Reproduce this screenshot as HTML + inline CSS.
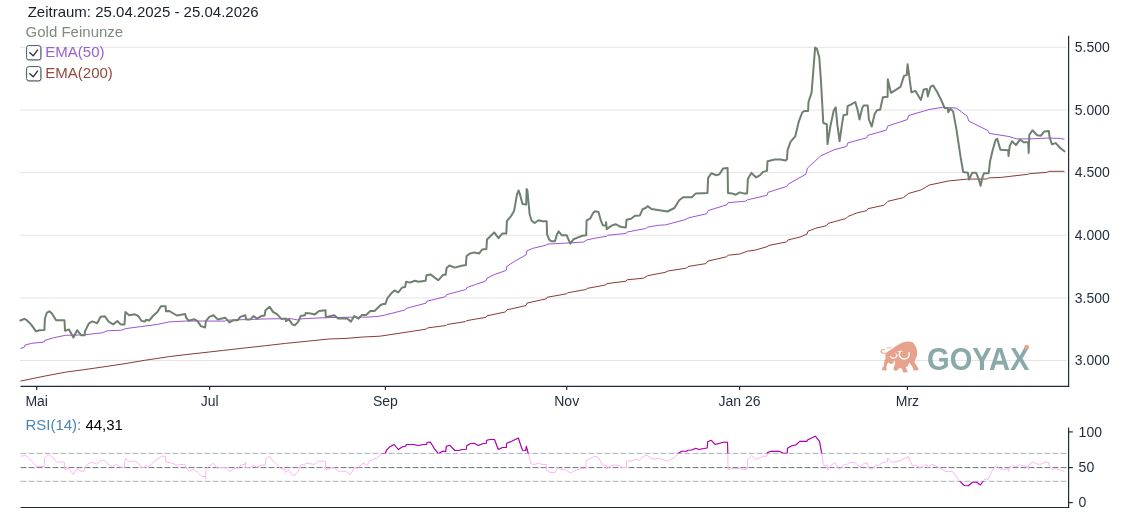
<!DOCTYPE html>
<html lang="de"><head><meta charset="utf-8"><title>Gold Feinunze Chart</title>
<style>
html,body{margin:0;padding:0;background:#fff;}
body{width:1140px;height:513px;overflow:hidden;position:relative;font-family:"Liberation Sans",sans-serif;}
svg{position:absolute;left:0;top:0;display:block}
text{font-family:"Liberation Sans",sans-serif;}
.ax{font-size:14px;fill:#1f2b3a}
.t15{font-size:15px}
</style></head><body>
<svg width="1140" height="513" viewBox="0 0 1140 513">
<defs>
<clipPath id="hi"><rect x="0" y="420" width="1140" height="33.4"/></clipPath>
<clipPath id="lo"><rect x="0" y="481.3" width="1140" height="30"/></clipPath>
</defs>

<line x1="20.0" y1="47.3" x2="1067.1" y2="47.3" stroke="#e4e4e4" stroke-width="1"/>
<line x1="20.0" y1="110.0" x2="1067.1" y2="110.0" stroke="#e4e4e4" stroke-width="1"/>
<line x1="20.0" y1="172.6" x2="1067.1" y2="172.6" stroke="#e4e4e4" stroke-width="1"/>
<line x1="20.0" y1="235.2" x2="1067.1" y2="235.2" stroke="#e4e4e4" stroke-width="1"/>
<line x1="20.0" y1="297.9" x2="1067.1" y2="297.9" stroke="#e4e4e4" stroke-width="1"/>
<line x1="20.0" y1="360.5" x2="1067.1" y2="360.5" stroke="#e4e4e4" stroke-width="1"/>
<g id="logo" opacity="1">
<text x="927" y="370" font-size="32" font-weight="bold" fill="#8aa9a9" textLength="102.5" lengthAdjust="spacingAndGlyphs">GOYAX</text>
<circle cx="1026.6" cy="347.2" r="2.4" fill="#e9a48d"/>
<g transform="translate(876,338) scale(0.07407)" fill="#e6a28a">
<path d="M130,212 L150,190 L200,160 L250,120 L300,90 L350,65 L400,50 L450,47 L500,60 L530,100 L550,150 L556,200 L550,250 L532,290 L520,320 L540,360 L570,410 L576,436 L508,440 L498,400 L470,360 L452,332 L442,352 L430,380 L400,392 L412,422 L430,462 L368,466 L350,420 L330,400 L300,420 L280,442 L250,442 L234,410 L250,370 L260,330 L250,308 L240,300 L236,340 L200,350 L170,332 L150,352 L140,400 L146,436 L84,440 L84,402 L104,380 L110,330 L116,300 L132,270 L124,240 Z"/>
<path d="M140,212 L92,214 L62,196 L58,174 L84,152 L118,148 L120,160 L92,166 L76,180 L82,194 L100,200 L140,198 Z"/>
<rect x="140" y="128" width="72" height="12" rx="5"/>
<path d="M322,186 C300,230 325,282 380,284 C430,282 462,245 444,196" fill="none" stroke="#fff" stroke-width="20" stroke-linecap="round"/>
<path d="M298,182 L352,178" fill="none" stroke="#fff" stroke-width="10" stroke-linecap="round"/>
<path d="M196,250 C215,285 262,282 286,236" fill="none" stroke="#fff" stroke-width="17" stroke-linecap="round"/>
<path d="M262,200 C280,215 285,245 270,262" fill="none" stroke="#fff" stroke-width="9" stroke-linecap="round"/>
</g>

</g>
<polyline fill="none" stroke="#8a3b36" stroke-width="1" stroke-linejoin="round" points="20.4,381.1 45.2,376.0 65.3,372.2 83.8,369.7 103.9,366.8 124.0,363.8 144.2,360.4 169.3,356.6 186.1,354.6 223.5,350.4 245.3,347.9 265.5,345.7 285.6,343.4 307.4,341.2 329.2,339.0 346.0,338.4 362.7,337.0 380.0,336.2 420.7,330.0 426.5,329.0 427.5,327.9 446.0,325.5 447.0,324.5 465.5,321.6 466.9,320.6 486.0,317.3 487.0,315.8 505.5,311.9 506.8,309.9 525.9,305.6 526.9,303.1 546.4,298.8 547.0,297.3 566.6,293.8 567.5,292.8 586.1,289.5 587.0,288.4 605.6,285.0 606.5,283.7 626.0,281.2 627.0,279.8 643.6,278.2 647.5,275.7 665.0,272.4 667.9,271.0 686.5,268.1 688.0,266.5 705.9,263.6 707.9,261.1 726.4,256.8 728.4,255.2 739.7,254.0 747.5,251.2 755.3,250.1 767.0,246.7 769.0,245.4 786.5,241.9 788.1,239.9 800.2,237.0 807.0,234.1 808.0,231.2 815.8,228.2 826.5,225.7 828.1,223.4 846.0,218.5 847.9,216.5 856.7,213.0 866.5,210.7 868.0,208.7 884.0,205.2 887.9,201.3 903.5,197.6 908.4,193.5 920.1,190.2 920.9,190.0 929.1,185.1 948.2,181.0 967.3,179.1 987.2,179.0 988.7,177.9 1001.2,177.4 1027.7,174.3 1029.3,173.7 1046.4,172.4 1049.6,171.3 1064.4,171.3"/>
<polyline fill="none" stroke="#9a55d3" stroke-width="1" stroke-linejoin="round" points="20.4,348.7 24.3,347.0 25.1,345.0 31.8,343.3 44.4,342.0 44.9,340.3 53.6,337.8 65.3,335.3 83.8,334.9 102.2,332.8 107.3,330.8 121.5,330.2 125.7,328.6 140.8,326.6 157.6,324.4 169.3,321.9 186.1,321.0 225.2,321.1 226.1,320.2 267.1,318.9 290.6,318.6 297.3,319.9 300.7,318.9 324.2,317.7 351.0,317.2 366.1,317.2 377.8,316.4 384.6,315.2 405.1,309.9 406.1,308.4 426.1,303.1 426.9,301.2 445.6,296.7 446.4,294.7 465.9,289.5 466.9,287.5 475.3,284.6 484.0,281.7 486.4,280.3 487.0,278.1 494.8,274.4 505.9,270.5 506.3,270.0 506.7,266.5 514.1,261.6 526.2,254.8 526.8,250.9 532.6,248.4 546.7,245.0 547.3,244.1 565.8,243.1 583.3,242.1 587.2,239.8 597.0,237.8 606.7,236.3 607.7,235.3 626.2,233.4 627.2,232.0 645.7,228.5 647.6,227.1 659.3,225.2 665.6,224.9 685.1,219.7 689.0,217.7 706.5,213.8 708.5,210.5 727.0,204.7 728.0,202.7 745.5,201.2 747.5,199.8 767.0,195.3 767.9,192.4 786.5,186.5 788.4,184.0 805.9,174.2 807.5,168.0 820.9,155.8 833.8,149.9 846.7,146.4 847.8,142.9 866.5,137.8 867.7,135.4 886.4,130.1 887.6,126.1 907.3,119.6 908.7,115.5 929.1,109.5 942.8,107.3 956.4,108.1 967.3,116.3 968.7,121.0 987.8,130.5 989.2,133.4 1009.0,136.5 1016.8,138.9 1029.3,138.9 1048.0,138.1 1060.5,138.4 1064.4,139.3"/>
<polyline fill="none" stroke="#6f8071" stroke-width="2" stroke-linejoin="round" stroke-linecap="round" points="20.4,320.5 24.3,318.8 26.8,320.2 31.0,324.4 36.0,331.4 39.3,330.2 44.4,329.9 44.9,318.5 46.9,312.6 49.4,311.3 51.9,313.5 56.1,320.2 64.5,320.2 65.0,330.8 69.0,329.4 73.4,337.5 77.1,330.2 81.3,335.3 84.6,335.3 85.1,331.1 88.8,323.5 92.2,321.4 97.2,323.2 100.6,316.8 104.8,316.3 108.9,321.9 113.1,324.4 117.3,321.0 120.7,324.4 124.5,324.4 125.4,312.1 129.1,315.2 134.9,314.3 138.3,316.0 141.6,321.0 145.0,321.4 146.2,319.7 149.2,320.5 153.4,315.5 157.6,311.8 160.9,306.3 165.6,306.3 166.0,311.3 169.3,311.0 176.9,315.5 181.1,314.8 185.2,314.0 186.1,317.7 188.6,320.7 194.5,319.3 197.5,321.1 200.9,326.1 205.1,327.5 205.9,321.1 209.3,316.9 213.5,315.2 217.7,319.4 225.2,317.7 229.4,322.4 233.6,320.2 237.8,320.2 240.3,316.9 245.3,315.2 246.2,319.4 250.4,319.4 253.4,316.1 257.1,318.6 261.3,316.1 264.6,315.6 265.5,310.2 269.7,306.8 273.0,311.9 277.2,314.4 281.4,318.9 285.6,318.6 285.9,321.1 288.9,319.4 292.3,324.4 294.8,325.3 298.2,321.9 300.7,316.1 304.9,315.2 305.7,313.0 310.7,313.5 314.9,314.4 319.1,311.0 325.5,310.2 325.8,317.2 334.2,315.2 338.4,318.6 346.8,318.2 351.0,321.6 354.3,316.1 358.5,318.6 361.9,314.9 366.1,314.9 370.3,311.0 374.5,311.0 380.7,305.0 382.7,304.1 385.2,304.1 387.5,298.2 390.5,294.3 394.4,290.4 398.3,292.4 402.2,287.5 405.1,287.1 406.1,281.7 410.0,282.6 414.8,280.7 418.7,281.7 425.6,280.7 426.5,275.2 430.4,274.4 438.2,280.3 443.1,274.8 445.6,274.8 446.6,268.0 449.5,265.5 454.8,267.6 461.6,265.7 465.9,265.1 466.5,256.3 469.4,253.8 474.3,252.4 479.2,253.4 482.1,249.5 486.4,248.9 487.0,239.4 489.9,236.8 494.2,232.4 498.5,238.2 502.4,233.4 506.3,233.4 506.9,221.1 511.2,215.8 514.1,210.9 517.0,194.4 518.6,190.5 520.0,194.4 522.5,204.1 526.2,204.5 526.6,188.9 527.4,190.5 529.7,214.8 531.7,220.7 534.6,223.0 538.5,220.3 542.4,221.3 546.7,221.3 547.1,234.3 549.2,239.6 551.2,241.2 555.0,241.2 557.0,234.3 558.6,231.4 561.9,235.3 566.7,235.3 570.3,243.7 573.6,239.2 577.5,237.6 582.3,235.7 586.2,235.3 586.6,220.3 590.1,218.7 593.1,212.9 595.0,211.3 598.5,211.9 600.9,220.7 602.8,225.2 605.7,225.9 606.1,222.2 606.7,229.1 611.6,225.6 615.5,224.2 621.3,227.1 625.8,227.5 626.6,219.7 631.1,218.7 635.0,215.8 639.8,215.4 642.8,209.0 645.7,208.0 647.6,206.1 651.5,209.0 667.5,211.5 674.4,208.0 679.2,200.2 683.1,197.3 691.9,197.3 695.8,193.4 707.5,193.0 708.1,177.8 711.4,173.3 716.3,175.2 719.2,174.4 723.1,168.6 727.6,168.0 728.0,193.0 731.9,193.4 735.8,194.7 739.7,192.4 743.6,193.4 747.1,193.4 747.9,178.7 751.4,172.9 756.2,177.4 760.1,175.2 763.1,171.9 767.0,170.9 767.5,161.2 774.8,159.6 780.6,159.6 785.5,160.6 787.0,159.3 787.5,150.4 790.5,141.8 795.2,136.4 798.7,121.9 802.2,112.5 804.6,110.9 808.1,110.9 808.5,102.0 811.6,92.6 813.9,63.4 815.1,47.5 817.0,48.9 819.3,57.5 820.9,79.8 823.3,123.0 826.8,124.2 827.5,144.1 830.3,126.5 833.8,110.2 835.7,107.4 837.3,124.2 839.6,141.3 842.0,124.2 843.6,114.9 847.1,114.4 847.6,106.2 851.3,104.3 855.3,102.0 857.7,110.2 859.5,119.5 862.3,107.8 863.7,105.5 867.7,105.5 868.9,119.5 871.7,126.5 874.7,113.7 877.1,110.2 880.1,109.7 882.9,97.3 887.6,96.8 887.8,79.3 890.9,92.8 895.0,90.4 900.5,86.8 904.0,75.9 906.7,75.1 907.6,64.2 911.4,92.3 915.5,90.9 920.9,99.9 923.7,89.6 926.9,89.0 927.8,96.4 930.5,86.8 933.2,85.5 937.3,92.3 941.4,100.5 944.7,108.1 947.7,108.1 948.2,112.2 950.4,108.7 953.1,111.4 956.4,129.1 960.5,156.4 963.2,172.0 967.9,172.8 969.0,179.6 972.2,172.8 976.1,172.8 978.6,178.6 980.6,185.7 982.5,177.1 984.0,173.2 988.7,173.2 990.0,161.5 992.6,150.6 995.7,139.6 997.3,138.9 1000.4,149.8 1008.2,150.2 1008.5,156.0 1009.8,145.9 1012.1,141.2 1016.0,145.1 1019.9,139.6 1023.8,142.3 1028.2,142.3 1028.7,152.9 1029.3,135.0 1032.4,130.3 1037.1,135.3 1041.0,135.7 1044.1,131.5 1048.8,131.1 1049.6,137.3 1051.9,144.3 1055.8,143.1 1060.5,148.2 1064.4,151.3"/>
<line x1="1068.6" y1="35.8" x2="1068.6" y2="386.8" stroke="#1f2b3a" stroke-width="1.2"/>
<line x1="20.5" y1="386.3" x2="1069.2" y2="386.3" stroke="#1f2b3a" stroke-width="1.2"/>
<line x1="36.7" y1="386.3" x2="36.7" y2="390" stroke="#1f2b3a" stroke-width="1.2"/>
<text class="ax" x="36.7" y="405.9" text-anchor="middle">Mai</text>
<line x1="209.6" y1="386.3" x2="209.6" y2="390" stroke="#1f2b3a" stroke-width="1.2"/>
<text class="ax" x="209.6" y="405.9" text-anchor="middle">Jul</text>
<line x1="385.4" y1="386.3" x2="385.4" y2="390" stroke="#1f2b3a" stroke-width="1.2"/>
<text class="ax" x="385.4" y="405.9" text-anchor="middle">Sep</text>
<line x1="566.7" y1="386.3" x2="566.7" y2="390" stroke="#1f2b3a" stroke-width="1.2"/>
<text class="ax" x="566.7" y="405.9" text-anchor="middle">Nov</text>
<line x1="739.6" y1="386.3" x2="739.6" y2="390" stroke="#1f2b3a" stroke-width="1.2"/>
<text class="ax" x="739.6" y="405.9" text-anchor="middle">Jan 26</text>
<line x1="907.4" y1="386.3" x2="907.4" y2="390" stroke="#1f2b3a" stroke-width="1.2"/>
<text class="ax" x="907.4" y="405.9" text-anchor="middle">Mrz</text>
<text class="ax" x="1074.8" y="52.0">5.500</text>
<text class="ax" x="1074.8" y="114.7">5.000</text>
<text class="ax" x="1074.8" y="177.3">4.500</text>
<text class="ax" x="1074.8" y="239.9">4.000</text>
<text class="ax" x="1074.8" y="302.6">3.500</text>
<text class="ax" x="1074.8" y="365.2">3.000</text>
<line x1="20.5" y1="453.4" x2="1067.6" y2="453.4" stroke="#aab5bd" stroke-width="1" stroke-dasharray="6 2"/>
<line x1="20.5" y1="467.6" x2="1067.6" y2="467.6" stroke="#6b7883" stroke-width="1" stroke-dasharray="6 2"/>
<line x1="20.5" y1="481.3" x2="1067.6" y2="481.3" stroke="#aab5bd" stroke-width="1" stroke-dasharray="6 2"/>
<polyline fill="none" stroke="#ffb5f3" stroke-width="1" stroke-linejoin="round" points="20.3,456.2 25.8,455.5 28.3,457.5 35.8,465.8 39.2,466.7 44.2,466.3 44.7,457.5 48.3,454.5 51.7,456.7 56.7,462.0 64.2,462.0 65.0,470.0 68.7,468.3 73.3,474.5 77.0,468.3 80.8,471.2 84.2,471.2 85.0,467.5 88.3,463.7 92.5,462.2 96.7,464.2 100.8,460.3 104.2,460.3 109.2,465.0 112.5,466.7 116.7,464.5 120.0,467.0 124.2,467.5 125.3,458.3 129.2,461.7 133.3,460.8 137.5,462.5 141.7,467.5 144.7,467.5 145.3,465.5 149.2,466.3 155.0,460.8 161.7,456.2 165.3,456.2 165.8,462.0 170.0,462.5 176.7,465.0 185.0,464.2 185.8,467.5 189.2,471.2 193.3,469.2 197.5,472.2 201.7,476.3 205.3,476.7 205.7,478.7 206.0,469.2 209.2,465.8 213.3,463.3 217.5,468.3 225.0,467.2 229.5,471.7 233.7,468.7 237.5,468.7 240.0,465.5 245.0,464.2 245.5,462.0 245.8,467.5 250.0,468.0 253.3,465.0 256.7,467.2 260.8,465.3 265.3,465.0 265.8,459.2 269.5,456.2 272.8,460.8 276.7,464.2 280.8,468.7 285.0,469.2 285.3,472.5 288.7,470.0 292.0,474.5 294.2,475.5 297.8,472.2 300.8,465.0 305.0,464.7 305.5,463.3 310.0,463.7 314.2,464.5 318.3,461.2 325.3,461.2 325.7,469.7 333.7,467.5 338.3,471.3 345.8,471.3 350.3,474.7 354.2,467.5 357.5,468.7 360.8,465.0 362.5,463.3 365.0,463.7 366.7,465.5 370.0,460.8 373.3,459.2 376.7,458.0 381.7,453.7 385.3,453.3 386.7,450.0 390.0,446.7 394.2,444.5 398.3,449.5 402.5,446.7 405.8,446.2 406.3,444.5 413.3,444.5 418.3,445.5 423.3,444.5 426.7,444.5 427.0,442.5 430.3,442.0 434.2,448.3 438.3,453.7 442.5,451.3 445.8,451.3 446.3,446.3 450.0,445.3 454.7,450.5 458.3,450.5 462.5,449.5 466.3,449.2 466.7,445.8 470.0,443.7 474.2,443.3 478.3,445.5 482.5,443.7 486.2,443.3 486.7,440.3 490.0,439.5 494.5,439.5 498.3,449.5 502.5,447.5 506.3,447.5 506.7,443.3 511.7,441.3 518.3,438.0 522.5,450.3 525.8,450.5 526.3,446.2 528.3,453.7 530.8,463.7 534.2,464.5 538.3,463.3 542.5,464.5 546.3,464.5 546.7,470.5 550.0,472.5 555.0,472.5 558.0,467.5 560.8,469.2 565.8,469.7 570.5,473.3 575.0,470.3 580.8,468.7 585.8,468.3 586.3,460.3 590.0,458.8 594.7,456.2 598.3,457.5 602.5,465.0 606.3,465.5 606.7,468.7 610.8,465.8 615.0,465.0 619.2,465.5 622.0,467.5 626.2,467.5 626.7,461.2 631.7,460.8 635.8,459.2 639.2,460.3 644.2,455.8 647.5,455.5 650.0,457.5 654.2,459.2 659.2,458.0 663.3,460.0 667.5,461.2 675.0,457.2 678.3,453.3 681.7,451.3 687.0,451.2 687.5,450.3 691.7,450.0 695.8,448.3 698.8,449.5 702.5,448.7 707.2,448.0 707.7,441.7 711.3,440.3 715.3,444.5 723.3,442.2 727.5,442.2 727.8,453.3 728.0,469.2 733.3,468.7 739.2,468.3 743.3,469.5 747.2,469.5 747.7,459.2 751.7,455.5 755.8,459.5 763.3,456.3 767.0,456.2 767.5,452.5 770.8,451.3 779.2,451.3 783.3,453.3 787.2,453.3 787.5,448.3 791.7,445.8 795.8,445.0 799.7,441.3 807.0,441.3 807.5,440.0 815.3,436.2 819.5,441.3 821.7,453.3 823.3,465.0 827.5,465.5 827.8,470.3 830.8,465.5 835.0,462.5 839.2,469.5 843.3,465.0 846.7,464.5 850.0,462.5 855.0,462.5 860.0,466.7 864.2,463.3 867.5,463.3 868.0,467.2 871.7,469.7 875.0,465.5 879.2,465.0 883.3,462.5 887.2,462.0 887.7,458.3 891.7,462.5 900.0,460.8 904.2,458.3 907.5,458.0 908.0,456.2 912.5,465.8 915.8,465.0 920.0,468.0 924.2,465.0 927.0,465.0 927.5,468.0 931.7,464.2 935.8,465.8 940.8,468.7 945.0,471.3 948.3,471.7 952.5,471.3 957.5,478.7 960.8,482.2 964.2,485.5 968.3,485.8 972.5,482.2 976.7,482.2 980.3,485.0 983.3,481.2 984.7,479.2 988.3,479.2 992.5,470.0 996.3,465.3 1000.0,469.2 1008.3,469.2 1008.7,471.3 1009.2,467.5 1012.5,465.5 1015.8,466.7 1020.0,465.0 1024.2,466.2 1028.0,466.3 1028.3,470.0 1028.7,465.0 1032.5,462.0 1037.5,464.2 1040.8,464.2 1045.0,462.2 1048.3,462.2 1049.2,465.8 1052.5,469.5 1055.8,468.3 1060.0,470.0 1064.7,471.7"/>
<polyline clip-path="url(#hi)" fill="none" stroke="#ad00ad" stroke-width="1.15" stroke-linejoin="round" points="20.3,456.2 25.8,455.5 28.3,457.5 35.8,465.8 39.2,466.7 44.2,466.3 44.7,457.5 48.3,454.5 51.7,456.7 56.7,462.0 64.2,462.0 65.0,470.0 68.7,468.3 73.3,474.5 77.0,468.3 80.8,471.2 84.2,471.2 85.0,467.5 88.3,463.7 92.5,462.2 96.7,464.2 100.8,460.3 104.2,460.3 109.2,465.0 112.5,466.7 116.7,464.5 120.0,467.0 124.2,467.5 125.3,458.3 129.2,461.7 133.3,460.8 137.5,462.5 141.7,467.5 144.7,467.5 145.3,465.5 149.2,466.3 155.0,460.8 161.7,456.2 165.3,456.2 165.8,462.0 170.0,462.5 176.7,465.0 185.0,464.2 185.8,467.5 189.2,471.2 193.3,469.2 197.5,472.2 201.7,476.3 205.3,476.7 205.7,478.7 206.0,469.2 209.2,465.8 213.3,463.3 217.5,468.3 225.0,467.2 229.5,471.7 233.7,468.7 237.5,468.7 240.0,465.5 245.0,464.2 245.5,462.0 245.8,467.5 250.0,468.0 253.3,465.0 256.7,467.2 260.8,465.3 265.3,465.0 265.8,459.2 269.5,456.2 272.8,460.8 276.7,464.2 280.8,468.7 285.0,469.2 285.3,472.5 288.7,470.0 292.0,474.5 294.2,475.5 297.8,472.2 300.8,465.0 305.0,464.7 305.5,463.3 310.0,463.7 314.2,464.5 318.3,461.2 325.3,461.2 325.7,469.7 333.7,467.5 338.3,471.3 345.8,471.3 350.3,474.7 354.2,467.5 357.5,468.7 360.8,465.0 362.5,463.3 365.0,463.7 366.7,465.5 370.0,460.8 373.3,459.2 376.7,458.0 381.7,453.7 385.3,453.3 386.7,450.0 390.0,446.7 394.2,444.5 398.3,449.5 402.5,446.7 405.8,446.2 406.3,444.5 413.3,444.5 418.3,445.5 423.3,444.5 426.7,444.5 427.0,442.5 430.3,442.0 434.2,448.3 438.3,453.7 442.5,451.3 445.8,451.3 446.3,446.3 450.0,445.3 454.7,450.5 458.3,450.5 462.5,449.5 466.3,449.2 466.7,445.8 470.0,443.7 474.2,443.3 478.3,445.5 482.5,443.7 486.2,443.3 486.7,440.3 490.0,439.5 494.5,439.5 498.3,449.5 502.5,447.5 506.3,447.5 506.7,443.3 511.7,441.3 518.3,438.0 522.5,450.3 525.8,450.5 526.3,446.2 528.3,453.7 530.8,463.7 534.2,464.5 538.3,463.3 542.5,464.5 546.3,464.5 546.7,470.5 550.0,472.5 555.0,472.5 558.0,467.5 560.8,469.2 565.8,469.7 570.5,473.3 575.0,470.3 580.8,468.7 585.8,468.3 586.3,460.3 590.0,458.8 594.7,456.2 598.3,457.5 602.5,465.0 606.3,465.5 606.7,468.7 610.8,465.8 615.0,465.0 619.2,465.5 622.0,467.5 626.2,467.5 626.7,461.2 631.7,460.8 635.8,459.2 639.2,460.3 644.2,455.8 647.5,455.5 650.0,457.5 654.2,459.2 659.2,458.0 663.3,460.0 667.5,461.2 675.0,457.2 678.3,453.3 681.7,451.3 687.0,451.2 687.5,450.3 691.7,450.0 695.8,448.3 698.8,449.5 702.5,448.7 707.2,448.0 707.7,441.7 711.3,440.3 715.3,444.5 723.3,442.2 727.5,442.2 727.8,453.3 728.0,469.2 733.3,468.7 739.2,468.3 743.3,469.5 747.2,469.5 747.7,459.2 751.7,455.5 755.8,459.5 763.3,456.3 767.0,456.2 767.5,452.5 770.8,451.3 779.2,451.3 783.3,453.3 787.2,453.3 787.5,448.3 791.7,445.8 795.8,445.0 799.7,441.3 807.0,441.3 807.5,440.0 815.3,436.2 819.5,441.3 821.7,453.3 823.3,465.0 827.5,465.5 827.8,470.3 830.8,465.5 835.0,462.5 839.2,469.5 843.3,465.0 846.7,464.5 850.0,462.5 855.0,462.5 860.0,466.7 864.2,463.3 867.5,463.3 868.0,467.2 871.7,469.7 875.0,465.5 879.2,465.0 883.3,462.5 887.2,462.0 887.7,458.3 891.7,462.5 900.0,460.8 904.2,458.3 907.5,458.0 908.0,456.2 912.5,465.8 915.8,465.0 920.0,468.0 924.2,465.0 927.0,465.0 927.5,468.0 931.7,464.2 935.8,465.8 940.8,468.7 945.0,471.3 948.3,471.7 952.5,471.3 957.5,478.7 960.8,482.2 964.2,485.5 968.3,485.8 972.5,482.2 976.7,482.2 980.3,485.0 983.3,481.2 984.7,479.2 988.3,479.2 992.5,470.0 996.3,465.3 1000.0,469.2 1008.3,469.2 1008.7,471.3 1009.2,467.5 1012.5,465.5 1015.8,466.7 1020.0,465.0 1024.2,466.2 1028.0,466.3 1028.3,470.0 1028.7,465.0 1032.5,462.0 1037.5,464.2 1040.8,464.2 1045.0,462.2 1048.3,462.2 1049.2,465.8 1052.5,469.5 1055.8,468.3 1060.0,470.0 1064.7,471.7"/>
<polyline clip-path="url(#lo)" fill="none" stroke="#ad00ad" stroke-width="1.15" stroke-linejoin="round" points="20.3,456.2 25.8,455.5 28.3,457.5 35.8,465.8 39.2,466.7 44.2,466.3 44.7,457.5 48.3,454.5 51.7,456.7 56.7,462.0 64.2,462.0 65.0,470.0 68.7,468.3 73.3,474.5 77.0,468.3 80.8,471.2 84.2,471.2 85.0,467.5 88.3,463.7 92.5,462.2 96.7,464.2 100.8,460.3 104.2,460.3 109.2,465.0 112.5,466.7 116.7,464.5 120.0,467.0 124.2,467.5 125.3,458.3 129.2,461.7 133.3,460.8 137.5,462.5 141.7,467.5 144.7,467.5 145.3,465.5 149.2,466.3 155.0,460.8 161.7,456.2 165.3,456.2 165.8,462.0 170.0,462.5 176.7,465.0 185.0,464.2 185.8,467.5 189.2,471.2 193.3,469.2 197.5,472.2 201.7,476.3 205.3,476.7 205.7,478.7 206.0,469.2 209.2,465.8 213.3,463.3 217.5,468.3 225.0,467.2 229.5,471.7 233.7,468.7 237.5,468.7 240.0,465.5 245.0,464.2 245.5,462.0 245.8,467.5 250.0,468.0 253.3,465.0 256.7,467.2 260.8,465.3 265.3,465.0 265.8,459.2 269.5,456.2 272.8,460.8 276.7,464.2 280.8,468.7 285.0,469.2 285.3,472.5 288.7,470.0 292.0,474.5 294.2,475.5 297.8,472.2 300.8,465.0 305.0,464.7 305.5,463.3 310.0,463.7 314.2,464.5 318.3,461.2 325.3,461.2 325.7,469.7 333.7,467.5 338.3,471.3 345.8,471.3 350.3,474.7 354.2,467.5 357.5,468.7 360.8,465.0 362.5,463.3 365.0,463.7 366.7,465.5 370.0,460.8 373.3,459.2 376.7,458.0 381.7,453.7 385.3,453.3 386.7,450.0 390.0,446.7 394.2,444.5 398.3,449.5 402.5,446.7 405.8,446.2 406.3,444.5 413.3,444.5 418.3,445.5 423.3,444.5 426.7,444.5 427.0,442.5 430.3,442.0 434.2,448.3 438.3,453.7 442.5,451.3 445.8,451.3 446.3,446.3 450.0,445.3 454.7,450.5 458.3,450.5 462.5,449.5 466.3,449.2 466.7,445.8 470.0,443.7 474.2,443.3 478.3,445.5 482.5,443.7 486.2,443.3 486.7,440.3 490.0,439.5 494.5,439.5 498.3,449.5 502.5,447.5 506.3,447.5 506.7,443.3 511.7,441.3 518.3,438.0 522.5,450.3 525.8,450.5 526.3,446.2 528.3,453.7 530.8,463.7 534.2,464.5 538.3,463.3 542.5,464.5 546.3,464.5 546.7,470.5 550.0,472.5 555.0,472.5 558.0,467.5 560.8,469.2 565.8,469.7 570.5,473.3 575.0,470.3 580.8,468.7 585.8,468.3 586.3,460.3 590.0,458.8 594.7,456.2 598.3,457.5 602.5,465.0 606.3,465.5 606.7,468.7 610.8,465.8 615.0,465.0 619.2,465.5 622.0,467.5 626.2,467.5 626.7,461.2 631.7,460.8 635.8,459.2 639.2,460.3 644.2,455.8 647.5,455.5 650.0,457.5 654.2,459.2 659.2,458.0 663.3,460.0 667.5,461.2 675.0,457.2 678.3,453.3 681.7,451.3 687.0,451.2 687.5,450.3 691.7,450.0 695.8,448.3 698.8,449.5 702.5,448.7 707.2,448.0 707.7,441.7 711.3,440.3 715.3,444.5 723.3,442.2 727.5,442.2 727.8,453.3 728.0,469.2 733.3,468.7 739.2,468.3 743.3,469.5 747.2,469.5 747.7,459.2 751.7,455.5 755.8,459.5 763.3,456.3 767.0,456.2 767.5,452.5 770.8,451.3 779.2,451.3 783.3,453.3 787.2,453.3 787.5,448.3 791.7,445.8 795.8,445.0 799.7,441.3 807.0,441.3 807.5,440.0 815.3,436.2 819.5,441.3 821.7,453.3 823.3,465.0 827.5,465.5 827.8,470.3 830.8,465.5 835.0,462.5 839.2,469.5 843.3,465.0 846.7,464.5 850.0,462.5 855.0,462.5 860.0,466.7 864.2,463.3 867.5,463.3 868.0,467.2 871.7,469.7 875.0,465.5 879.2,465.0 883.3,462.5 887.2,462.0 887.7,458.3 891.7,462.5 900.0,460.8 904.2,458.3 907.5,458.0 908.0,456.2 912.5,465.8 915.8,465.0 920.0,468.0 924.2,465.0 927.0,465.0 927.5,468.0 931.7,464.2 935.8,465.8 940.8,468.7 945.0,471.3 948.3,471.7 952.5,471.3 957.5,478.7 960.8,482.2 964.2,485.5 968.3,485.8 972.5,482.2 976.7,482.2 980.3,485.0 983.3,481.2 984.7,479.2 988.3,479.2 992.5,470.0 996.3,465.3 1000.0,469.2 1008.3,469.2 1008.7,471.3 1009.2,467.5 1012.5,465.5 1015.8,466.7 1020.0,465.0 1024.2,466.2 1028.0,466.3 1028.3,470.0 1028.7,465.0 1032.5,462.0 1037.5,464.2 1040.8,464.2 1045.0,462.2 1048.3,462.2 1049.2,465.8 1052.5,469.5 1055.8,468.3 1060.0,470.0 1064.7,471.7"/>
<line x1="1068.6" y1="427.5" x2="1068.6" y2="508.1" stroke="#1f2b3a" stroke-width="1.2"/>
<line x1="20.5" y1="507.5" x2="1069.2" y2="507.5" stroke="#1f2b3a" stroke-width="1.2"/>
<line x1="1068.6" y1="431.9" x2="1072.8" y2="431.9" stroke="#1f2b3a" stroke-width="1.2"/>
<text class="ax" x="1078.6" y="436.7">100</text>
<line x1="1068.6" y1="467.6" x2="1072.8" y2="467.6" stroke="#1f2b3a" stroke-width="1.2"/>
<text class="ax" x="1078.6" y="472.4">50</text>
<line x1="1068.6" y1="502.6" x2="1072.8" y2="502.6" stroke="#1f2b3a" stroke-width="1.2"/>
<text class="ax" x="1078.6" y="507.4">0</text>
<text class="t15" x="27.7" y="17.1" fill="#18202e">Zeitraum: 25.04.2025 - 25.04.2026</text>
<text class="t15" x="25.6" y="36.9" fill="#7d8c7f">Gold Feinunze</text>
<text class="t15" x="45.3" y="57.0" fill="#9a5fd0">EMA(50)</text>
<text class="t15" x="45.3" y="78.3" fill="#94493f">EMA(200)</text>
<text class="t15" x="25.4" y="430.3"><tspan fill="#4a84b6">RSI(14):</tspan><tspan fill="#000"> 44,31</tspan></text>
<rect x="26.9" y="46.0" width="14.6" height="14.6" rx="2.2" fill="none" stroke="#c5cad0" stroke-width="1"/>
<rect x="26.6" y="45.6" width="14.2" height="14.2" rx="2.2" fill="#fff" stroke="#4d5863" stroke-width="1"/>
<polyline points="29.8,52.7 33.2,55.8 37.5,50.1" fill="none" stroke="#2b3440" stroke-width="1.4" stroke-linecap="round" stroke-linejoin="round"/>
<rect x="26.9" y="67.0" width="14.6" height="14.6" rx="2.2" fill="none" stroke="#c5cad0" stroke-width="1"/>
<rect x="26.6" y="66.6" width="14.2" height="14.2" rx="2.2" fill="#fff" stroke="#4d5863" stroke-width="1"/>
<polyline points="29.8,73.7 33.2,76.8 37.5,71.1" fill="none" stroke="#2b3440" stroke-width="1.4" stroke-linecap="round" stroke-linejoin="round"/>
</svg></body></html>
